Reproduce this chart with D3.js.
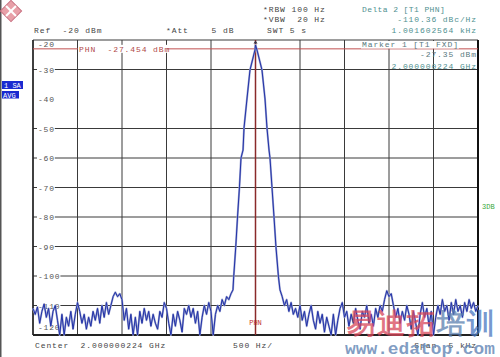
<!DOCTYPE html>
<html>
<head>
<meta charset="utf-8">
<script src="https://cdn.jsdelivr.net/npm/d3@7/dist/d3.min.js"></script>
<style>
html,body{margin:0;padding:0;background:#fff;}
svg{display:block;}
text{font-family:"Liberation Mono","DejaVu Sans Mono",monospace;}
</style>
</head>
<body>
<svg id="c" width="500" height="357"></svg>
<script>
// ---- data ----
const spanHz = [-2500, 2500];           // x axis: offset from centre, Hz
const levelRange = [-20, -120];         // y axis: dBm
const gridFreqs = [-2500,-2000,-1500,-1000,-500,0,500,1000,1500,2000,2500];
const gridLevels = [-20,-30,-50,-60,-70,-80,-90,-100,-110,-120]; // -40 line not drawn in reference
const yTickLabels = ["-20","-30","-40","-50","-60","-70","-80","-90","-100","-110","-120"];
const yTickValues = [-20,-30,-40,-50,-60,-70,-80,-90,-100,-110,-120];

// noise floor, left of carrier: start -2500 Hz, step 25 Hz
const leftNoiseStart = -2500, noiseStep = 25;
const leftNoise = [-111,-113,-110.5,-116,-112,-109.5,-114,-111,-117,-112,
  -110,-115,-120,-113,-120,-114,-117,-112,-118,-113,
  -109,-112,-116,-113,-118,-114,-117,-112,-115,-111,
  -116,-110,-114,-109,-113,-110,-107,-105.5,-107,-106,
  -108,-115,-111,-118,-113,-120,-114,-120,-112,-116,
  -111,-115,-112,-117,-113,-116,-118,-112,-114,-109,
  -111,-116,-120,-113,-117,-112,-115,-119,-111,-113,
  -110,-114,-111,-116,-112,-120,-114,-110,-113,-109,
  -112,-120,-113,-110,-112,-108,-110,-107,-108,-106];
// carrier skirt
const peakFreqs  = [-253,-245,-222,-202,-180,-163,-140,-129,-96,-62,-6,0,17,73,107,129,152,163,185,208,230,258,275];
const peakLevels = [-104.7,-100.3,-90.2,-80,-69.8,-60,-57.3,-49.8,-40,-30.2,-23.4,-21.7,-23.4,-30.2,-40,-49.8,-57.3,-60,-69.8,-80,-90.2,-100.3,-104.7];
// noise floor, right of carrier: start 300 Hz, step 25 Hz
const rightNoiseStart = 300;
const rightNoise = [-107,-110,-108,-112,-109,-113,-111,-114,-110,-115,
  -112,-117,-113,-110,-115,-118,-112,-116,-113,-119,
  -114,-117,-120,-113,-120,-115,-111,-109,-114,-112,
  -117,-113,-116,-111,-115,-118,-112,-114,-110,-116,
  -113,-117,-111,-114,-110,-112,-108,-105,-107,-106,
  -110,-114,-111,-116,-112,-115,-110,-113,-118,-112,
  -116,-120,-113,-109,-114,-111,-117,-112,-120,-114,
  -110,-113,-108,-112,-110,-115,-109,-113,-108,-112,
  -110,-114,-109,-112,-108,-111,-109,-112,-110];

const phnLineLevel = -23.0;   // red display line position (as drawn)
const markerFreq = 0;

// ---- drawing ----
const svg = d3.select("#c");
const L = 33, R = 478, T = 40, B = 335;
const x = d3.scaleLinear().domain(spanHz).range([L, R]);
const y = d3.scaleLinear().domain(levelRange).range([T, B]);

const trace = [];
leftNoise.forEach((v,i)=>trace.push([leftNoiseStart + i*noiseStep, v]));
peakFreqs.forEach((f,i)=>trace.push([f, peakLevels[i]]));
rightNoise.forEach((v,i)=>trace.push([rightNoiseStart + i*noiseStep, v]));

// left dark edge of screenshot
svg.append("rect").attr("x",0).attr("y",0).attr("width",1.5).attr("height",357).attr("fill","#555");

// logo
const logo = svg.append("g").attr("transform","translate(11,11) rotate(45)");
logo.append("rect").attr("x",-7.5).attr("y",-7.5).attr("width",15).attr("height",15).attr("fill","#e8a0a8").attr("stroke","#c87080").attr("stroke-width",1);
logo.append("line").attr("x1",-7).attr("x2",7).attr("y1",0).attr("y2",0).attr("stroke","#fff").attr("stroke-width",2);
logo.append("line").attr("y1",-7).attr("y2",7).attr("x1",0).attr("x2",0).attr("stroke","#fff").attr("stroke-width",2);

// grid
const grid = svg.append("g");
grid.selectAll("line.v").data(gridFreqs).join("line")
  .attr("x1",d=>x(d)).attr("x2",d=>x(d)).attr("y1",T).attr("y2",B)
  .attr("stroke","#3a3a3a").attr("stroke-width",1);
grid.selectAll("line.h").data(gridLevels).join("line")
  .attr("x1",L).attr("x2",R).attr("y1",d=>y(d)).attr("y2",d=>y(d))
  .attr("stroke","#3a3a3a").attr("stroke-width",1);
// heavier frame right & bottom
svg.append("line").attr("x1",R).attr("x2",R).attr("y1",T).attr("y2",B+1).attr("stroke","#111").attr("stroke-width",2);
svg.append("line").attr("x1",L).attr("x2",R+1).attr("y1",B).attr("y2",B).attr("stroke","#222").attr("stroke-width",2);
svg.append("line").attr("x1",L).attr("x2",L).attr("y1",T).attr("y2",B).attr("stroke","#222").attr("stroke-width",1.5);

// y tick labels (inside plot)
const yl = svg.append("g").selectAll("g").data(yTickValues).join("g")
  .attr("transform",(d,i)=>`translate(38,${i===0 ? y(d)+7 : (i===yTickValues.length-1 ? y(d)-5 : y(d)+3)})`);
yl.append("rect").attr("x",-1).attr("y",-6).attr("height",7)
  .attr("width",(d,i)=>yTickLabels[i].length*5.6+1).attr("fill","#fff");
yl.append("text").attr("font-size",8).attr("letter-spacing",0.8).attr("fill","#555")
  .text((d,i)=>yTickLabels[i]);

// red display line with label
svg.append("line").attr("x1",L).attr("x2",R).attr("y1",y(phnLineLevel)).attr("y2",y(phnLineLevel))
  .attr("stroke","#c05050").attr("stroke-width",1);
svg.append("rect").attr("x",78).attr("y",y(phnLineLevel)-4).attr("width",89).attr("height",8).attr("fill","#fff");
svg.append("text").attr("x",79).attr("y",y(phnLineLevel)+3).attr("xml:space","preserve")
  .attr("font-size",8).attr("letter-spacing",0.9).attr("fill","#b04848")
  .text("PHN  -27.454 dBm");

// marker info box background (covers gridlines under the text)
svg.append("rect").attr("x",361).attr("y",41).attr("width",98).attr("height",7.5).attr("fill","#fff");

// red vertical marker line
svg.append("line").attr("x1",x(markerFreq)).attr("x2",x(markerFreq)).attr("y1",T).attr("y2",B)
  .attr("stroke","#8a2a2a").attr("stroke-width",1.5);

// trace
const line = d3.line().x(d=>x(d[0])).y(d=>y(Math.max(d[1], levelRange[1])));
svg.append("path").datum(trace).attr("d",line)
  .attr("fill","none").attr("stroke","#9aa2d0").attr("stroke-width",2).attr("stroke-linejoin","round");
svg.append("path").datum(trace).attr("d",line)
  .attr("fill","none").attr("stroke","#2232a8").attr("stroke-width",1).attr("stroke-linejoin","round");

// marker symbol
svg.append("path").attr("d",`M${x(markerFreq)-2},${y(-21.2)} l2,-3 l2,3 z`).attr("fill","#334");

// PHN label near bottom
svg.append("text").attr("x",x(markerFreq)).attr("y",325).attr("text-anchor","middle")
  .attr("font-size",7).attr("fill","#c03030").text("PHN");

// header text
const hdr = svg.append("g").attr("font-size",8).attr("letter-spacing",0.9).attr("fill","#444");
hdr.append("text").attr("x",34).attr("y",33).attr("xml:space","preserve").text("Ref  -20 dBm");
hdr.append("text").attr("x",166).attr("y",33).attr("xml:space","preserve").text("*Att    5 dB");
hdr.append("text").attr("x",263).attr("y",12).attr("xml:space","preserve").text("*RBW 100 Hz");
hdr.append("text").attr("x",263).attr("y",22).attr("xml:space","preserve").text("*VBW  20 Hz");
hdr.append("text").attr("x",267).attr("y",33).attr("xml:space","preserve").text("SWT 5 s");
const teal = "#4f9090";
hdr.append("text").attr("x",362).attr("y",12).attr("fill",teal).attr("letter-spacing",0.4).text("Delta 2 [T1 PHN]");
hdr.append("text").attr("x",477).attr("y",22).attr("text-anchor","end").attr("fill",teal).text("-110.36 dBc/Hz");
hdr.append("text").attr("x",477).attr("y",33).attr("text-anchor","end").attr("fill",teal).text("1.001602564 kHz");
hdr.append("text").attr("x",362).attr("y",47).attr("fill","#5a7a80").text("Marker 1 [T1 FXD]");
hdr.append("text").attr("x",477).attr("y",57).attr("text-anchor","end").attr("fill","#5a7a80").text("-27.35 dBm");
hdr.append("text").attr("x",477).attr("y",69).attr("text-anchor","end").attr("fill",teal).text("2.000000224 GHz");

// footer text
hdr.append("text").attr("x",35).attr("y",348).attr("xml:space","preserve").text("Center  2.000000224 GHz");
hdr.append("text").attr("x",233).attr("y",348).attr("xml:space","preserve").text("500 Hz/");
hdr.append("text").attr("x",477).attr("y",348).attr("text-anchor","end").attr("xml:space","preserve").text("Span  5 kHz");

// side boxes
svg.append("rect").attr("x",2).attr("y",81).attr("width",21).attr("height",8).attr("fill","#1a2ad0");
svg.append("text").attr("x",4).attr("y",88).attr("font-size",7).attr("fill","#fff").attr("xml:space","preserve").text("1 SA");
svg.append("rect").attr("x",2).attr("y",91).attr("width",17).attr("height",7.5).attr("fill","#1a2ad0");
svg.append("text").attr("x",3).attr("y",97.5).attr("font-size",7).attr("fill","#fff").text("AVG");
svg.append("text").attr("x",482).attr("y",209).attr("font-size",7).attr("fill","#3aa83a").text("3DB");

// watermark
const wm = svg.append("g").attr("font-family","'Noto Sans CJK SC',sans-serif").attr("font-weight","bold");
const wmChars = ["易","迪","拓","培","训"];
const wmColors = ["#d8485a","#d8485a","#d8485a","#5a7fb0","#4a78c0"];
wm.selectAll("text").data(wmChars).join("text")
  .attr("x",(d,i)=>347+i*30).attr("y",333).attr("font-size",28)
  .attr("fill",(d,i)=>wmColors[i]).attr("fill-opacity",0.75).text(d=>d);
svg.append("text").attr("x",345).attr("y",354).attr("font-family","'Liberation Sans',Arial,sans-serif")
  .attr("font-weight","bold").attr("font-size",16).attr("fill","#6a8cb8").attr("fill-opacity",0.85)
  .attr("textLength",150).attr("lengthAdjust","spacingAndGlyphs").text("www.edatop.com");
</script>
</body>
</html>
